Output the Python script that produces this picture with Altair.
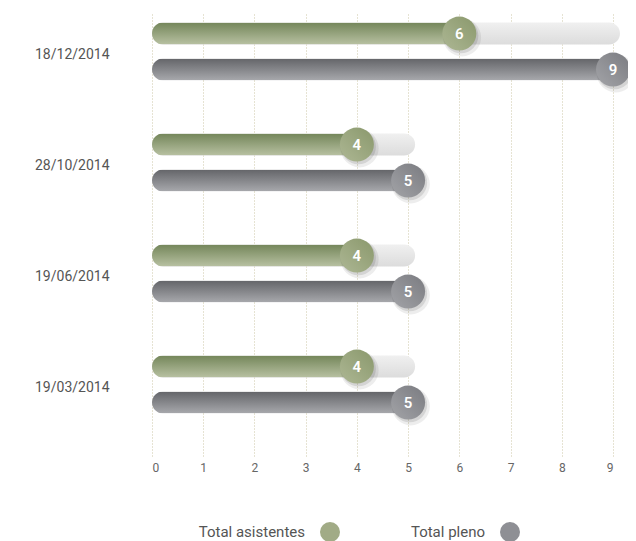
import altair as alt
import pandas as pd

# ---- data ----
dates = ["18/12/2014", "28/10/2014", "19/06/2014", "19/03/2014"]
asistentes = [6, 4, 4, 4]
pleno = [9, 5, 5, 5]
series = ["Total asistentes", "Total pleno"]
x_ticks = [0, 1, 2, 3, 4, 5, 6, 7, 8, 9]

rows = []
for d, a, p in zip(dates, asistentes, pleno):
    rows.append({"fecha": d, "serie": series[0], "valor": a, "pleno": p, "cero": 0})
    rows.append({"fecha": d, "serie": series[1], "valor": p, "pleno": p, "cero": 0})
df = pd.DataFrame(rows)

FONT = "Roboto"


def grad(c0, c1, x1=0, y1=0, x2=0, y2=1):
    return alt.LinearGradient(
        gradient="linear",
        stops=[alt.GradientStop(color=c0, offset=0), alt.GradientStop(color=c1, offset=1)],
        x1=x1, x2=x2, y1=y1, y2=y2,
    )


def circle_path(cx, cy, r):
    return (f"M {cx + r},{cy} A {r},{r} 0 1,1 {cx - r},{cy} "
            f"A {r},{r} 0 1,1 {cx + r},{cy} Z")


x_scale = alt.Scale(domain=[0, 9], nice=False, zero=True)
y_scale = alt.Scale(paddingInner=0, paddingOuter=0)
yo_scale = alt.Scale(domain=series, paddingInner=0.389, paddingOuter=0.736, align=0.2)

x_axis = alt.Axis(
    title=None, values=x_ticks, domain=False, ticks=False, grid=True,
    gridDash=[1, 2], gridColor="#cdc7a6", gridWidth=1,
    labelPadding=6, labelFontSize=12, labelColor="#666666", labelFont=FONT,
)
y_axis = alt.Axis(
    title=None, domain=False, ticks=False, grid=False, labelPadding=43,
    labelOffset=-13, labelFontSize=14, labelColor="#555555", labelFont=FONT,
)

x_enc = alt.X("valor:Q", scale=x_scale, axis=x_axis)
y_enc = alt.Y("fecha:N", sort=dates, scale=y_scale, axis=y_axis)
yo_enc = alt.YOffset("serie:N", sort=series, scale=yo_scale)

base = alt.Chart(df)
only_a = alt.datum.serie == series[0]
only_p = alt.datum.serie == series[1]

bg = base.transform_filter(only_a).mark_bar(
    cornerRadius=11, fill=grad("#f0f0f0", "#dcdcdc"), x2Offset=7
).encode(x=alt.X("cero:Q", scale=x_scale, axis=x_axis), x2="pleno:Q", y=y_enc, yOffset=yo_enc)

green = base.transform_filter(only_a).mark_bar(
    cornerRadius=11, fill=grad("#74865a", "#b8c1a2")
).encode(x=x_enc, y=y_enc, yOffset=yo_enc)

gray = base.transform_filter(only_p).mark_bar(
    cornerRadius=11, fill=grad("#646569", "#a8a9ad")
).encode(x=x_enc, y=y_enc, yOffset=yo_enc)

shadow1 = base.mark_point(
    shape=circle_path(0.16, 0.22, 1.12), filled=True, color="#000000", opacity=0.07,
    size=1156, strokeWidth=0,
).encode(x=x_enc, y=y_enc, yOffset=yo_enc)
shadow2 = base.mark_point(
    shape=circle_path(0.09, 0.13, 1.03), filled=True, color="#000000", opacity=0.1,
    size=1156, strokeWidth=0,
).encode(x=x_enc, y=y_enc, yOffset=yo_enc)

circ_a = base.transform_filter(only_a).mark_point(
    shape="circle", filled=True, opacity=1, size=1156, strokeWidth=0,
    fill=grad("#8a986c", "#adb794", x1=1, y1=0, x2=0, y2=1),
).encode(x=x_enc, y=y_enc, yOffset=yo_enc)
circ_p = base.transform_filter(only_p).mark_point(
    shape="circle", filled=True, opacity=1, size=1156, strokeWidth=0,
    fill=grad("#7a7b80", "#a3a4a8", x1=1, y1=0, x2=0, y2=1),
).encode(x=x_enc, y=y_enc, yOffset=yo_enc)

legend_layer = base.mark_point(shape="circle", filled=True, opacity=0, size=10).encode(
    x=x_enc, y=y_enc, yOffset=yo_enc,
    color=alt.Color(
        "serie:N",
        scale=alt.Scale(domain=series, range=["#a1ab86", "#8e8f94"]),
        legend=alt.Legend(
            title=None, orient="none", direction="horizontal", legendX=168, legendY=510,
            symbolSize=400, symbolType="circle", labelFontSize=15, labelColor="#555555",
            labelFont=FONT, labelAlign="right", labelOffset={"expr": "-35"}, columnPadding=70,
            symbolOpacity=1, symbolStrokeWidth=0,
        ),
    ),
)

labels = base.mark_text(color="white", fontSize=15, fontWeight=600, font=FONT).encode(
    x=x_enc, y=y_enc, yOffset=yo_enc, text="valor:Q"
)

chart = (
    alt.layer(bg, green, gray, shadow1, shadow2, circ_a, circ_p, legend_layer, labels)
    .properties(
        width=461, height=444,
        autosize=alt.AutoSizeParams(type="none"),
        padding={"left": 144, "top": 4, "right": 15, "bottom": 85},
        background="white",
    )
    .configure_view(stroke=None)
)

chart.save("out.html", embed_options={"renderer": "svg", "actions": False})
